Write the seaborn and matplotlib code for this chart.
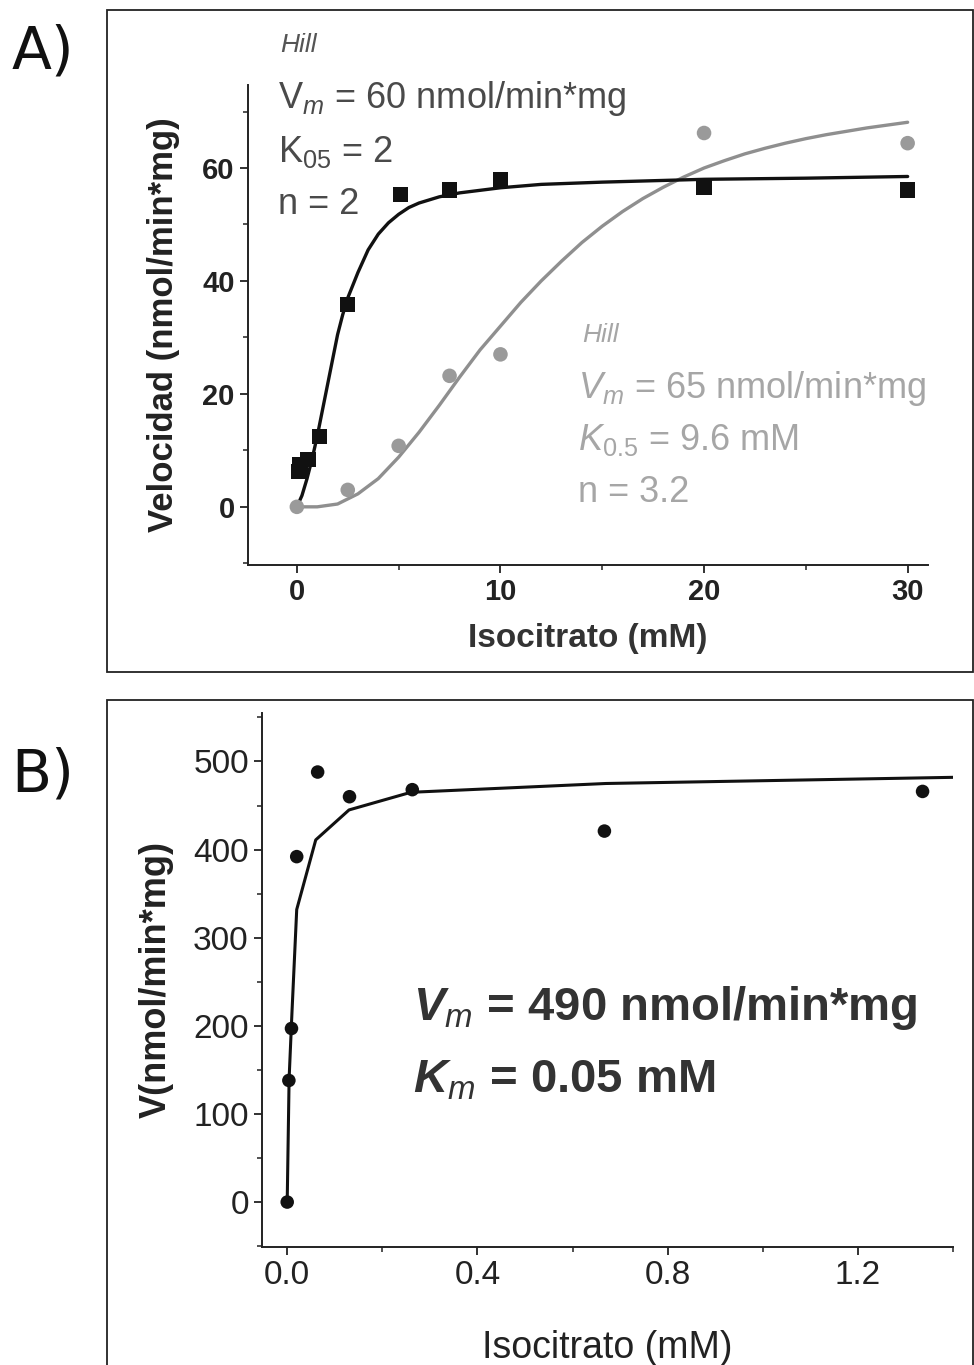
# =============================================================================
# Cinetica de la isocitrato deshidrogenasa: paneles A (Hill) y B (Michaelis)
# =============================================================================

import numpy as np
import pandas as pd
import matplotlib.pyplot as plt
import seaborn as sns
from matplotlib.patches import Rectangle
from matplotlib.ticker import MultipleLocator

sns.set_theme(style="ticks")
plt.rcParams['font.family'] = ['Liberation Sans', 'DejaVu Sans']
plt.rcParams['mathtext.fontset'] = 'custom'
plt.rcParams['mathtext.rm'] = 'Liberation Sans'
plt.rcParams['mathtext.it'] = 'Liberation Sans:italic'
plt.rcParams['mathtext.bf'] = 'Liberation Sans:bold'
plt.rcParams['mathtext.bfit'] = 'Liberation Sans:bold:italic'

# ---- Panel A data -----------------------------------------------------------
a_sq_x = [0.1, 0.15, 0.55, 1.1, 2.5, 5.1, 7.5, 10, 20, 30]
a_sq_y = [6.3, 7.4, 8.4, 12.4, 35.8, 55.3, 56.1, 57.9, 56.6, 56.1]

a_ci_x = [0, 2.5, 5, 7.5, 10, 20, 30]
a_ci_y = [0, 3.0, 10.8, 23.2, 27.0, 66.2, 64.4]

# fitted curves
a_fit1_x = [0, 0.25, 0.5, 0.75, 1, 1.25, 1.5, 1.75, 2, 2.25, 2.5, 3, 3.5, 4, 4.5,
            5, 5.5, 6, 7, 8, 10, 12, 15, 20, 25, 30]
a_fit1_y = [0, 2, 5, 8.5, 12.5, 17, 21.5, 26, 30.5, 34, 37, 41.5, 45.5, 48.3, 50.3,
            51.8, 53, 53.8, 54.9, 55.6, 56.5, 57.1, 57.5, 58, 58.2, 58.5]

a_fit2_x = [0, 1, 2, 3, 4, 5, 6, 7, 8, 9, 10, 11, 12, 13, 14, 15, 16, 17, 18, 19,
            20, 21, 22, 23, 24, 25, 26, 27, 28, 29, 30]
a_fit2_y = [0, 0, 0.5, 2.3, 5, 8.8, 13.2, 18, 23, 27.8, 32, 36.2, 40, 43.5, 46.8,
            49.7, 52.3, 54.6, 56.6, 58.4, 60, 61.3, 62.5, 63.5, 64.4, 65.2, 65.9,
            66.5, 67.1, 67.6, 68.1]

# ---- Panel B data -----------------------------------------------------------
b_x = [0, 0.0035, 0.009, 0.02, 0.064, 0.131, 0.263, 0.667, 1.336]
b_y = [0, 138, 197, 392, 488, 460, 468, 421, 466]

b_fit_x = [0, 0.004, 0.01, 0.02, 0.06, 0.13, 0.26, 0.67, 1.4]
b_fit_y = [0, 140, 215, 332, 411, 445, 465, 475, 482]

W, H = 974, 1365
fig = plt.figure(figsize=(W / 100, H / 100), dpi=100)


def fx(px):
    return px / W


def fy(py):
    return 1 - py / H


def style_axes(ax):
    sns.despine(ax=ax)
    for s in ['left', 'bottom']:
        ax.spines[s].set_linewidth(1.4)
        ax.spines[s].set_color('#222222')
    ax.tick_params(which='major', length=6, width=1.3, color='#222222')
    ax.tick_params(which='minor', length=3.5, width=1.1, color='#222222')
    ax.set_facecolor('white')


# =============================================================================
# Panel A
# =============================================================================
axA = fig.add_axes([fx(248), fy(565), fx(928) - fx(248), fy(85) - fy(565)])

fit1 = pd.DataFrame({'x': a_fit1_x, 'y': a_fit1_y})
fit2 = pd.DataFrame({'x': a_fit2_x, 'y': a_fit2_y})
sq = pd.DataFrame({'x': a_sq_x, 'y': a_sq_y})
ci = pd.DataFrame({'x': a_ci_x, 'y': a_ci_y})

sns.lineplot(data=fit2, x='x', y='y', ax=axA, color='#8f8f8f', lw=2.4, zorder=2)
sns.lineplot(data=fit1, x='x', y='y', ax=axA, color='#111111', lw=2.4, zorder=3)
sns.scatterplot(data=ci, x='x', y='y', ax=axA, marker='o', s=110,
                color='#9a9a9a', edgecolor='none', zorder=4)
sns.scatterplot(data=sq, x='x', y='y', ax=axA, marker='s', s=120,
                color='#111111', edgecolor='none', zorder=5)

axA.set_xlim(-2.4, 31.0)
axA.set_ylim(-10.3, 74.7)
axA.xaxis.set_major_locator(MultipleLocator(10))
axA.xaxis.set_minor_locator(MultipleLocator(5))
axA.yaxis.set_major_locator(MultipleLocator(20))
axA.yaxis.set_minor_locator(MultipleLocator(10))
style_axes(axA)
for lab in axA.get_xticklabels() + axA.get_yticklabels():
    lab.set_fontweight('bold')
    lab.set_fontsize(21)
    lab.set_color('#222222')
axA.set_xlabel('Isocitrato (mM)', fontsize=24, fontweight='bold', color='#333333', labelpad=12)
axA.set_ylabel('Velocidad (nmol/min*mg)', fontsize=25, fontweight='bold', color='#222222', labelpad=16)

c1 = '#4a4a4a'
fig.text(fx(280), fy(45), 'Hill', style='italic', fontsize=19, color='#555555', va='center')
fig.text(fx(278), fy(98), r'$\mathrm{V}_{m}$ = 60 nmol/min*mg', fontsize=26, color=c1, va='center')
fig.text(fx(278), fy(152), r'$\mathrm{K}_{05}$ = 2', fontsize=26, color=c1, va='center')
fig.text(fx(278), fy(205), 'n = 2', fontsize=26, color=c1, va='center')

c2 = '#a6a6a6'
fig.text(fx(582), fy(335), 'Hill', style='italic', fontsize=19, color=c2, va='center')
fig.text(fx(578), fy(388), r'$V_{m}$ = 65 nmol/min*mg', fontsize=26, color=c2, va='center')
fig.text(fx(578), fy(440), r'$K_{\mathrm{0.5}}$ = 9.6 mM', fontsize=26, color=c2, va='center')
fig.text(fx(578), fy(492), 'n = 3.2', fontsize=26, color=c2, va='center')

# =============================================================================
# Panel B
# =============================================================================
axB = fig.add_axes([fx(262), fy(1247), fx(953) - fx(262), fy(713) - fy(1247)])

bfit = pd.DataFrame({'x': b_fit_x, 'y': b_fit_y})
bpts = pd.DataFrame({'x': b_x, 'y': b_y})
sns.lineplot(data=bfit, x='x', y='y', ax=axB, color='#111111', lw=2.2, zorder=2)
sns.scatterplot(data=bpts, x='x', y='y', ax=axB, marker='o', s=95,
                color='#111111', edgecolor='none', zorder=3)

axB.set_xlim(-0.053, 1.40)
axB.set_ylim(-51, 555)
axB.xaxis.set_major_locator(MultipleLocator(0.4))
axB.xaxis.set_minor_locator(MultipleLocator(0.2))
axB.yaxis.set_major_locator(MultipleLocator(100))
axB.yaxis.set_minor_locator(MultipleLocator(50))
axB.set_xticks([0.0, 0.4, 0.8, 1.2])
axB.set_xticklabels(['0.0', '0.4', '0.8', '1.2'])
style_axes(axB)
for lab in axB.get_xticklabels() + axB.get_yticklabels():
    lab.set_fontsize(24)
    lab.set_color('#222222')
axB.set_xlabel('Isocitrato (mM)', fontsize=27, color='#222222', labelpad=28)
axB.set_ylabel('V(nmol/min*mg)', fontsize=26, fontweight='bold', color='#222222', labelpad=14)

c3 = '#333333'
fig.text(fx(413), fy(1008), r'$\mathbfit{V}_{m}$ = 490 nmol/min*mg', fontsize=34,
         fontweight='bold', color=c3, va='center')
fig.text(fx(413), fy(1080), r'$\mathbfit{K}_{m}$ = 0.05 mM', fontsize=34,
         fontweight='bold', color=c3, va='center')

# panel labels and frames
fig.text(fx(43), fy(52), 'A)', family='DejaVu Sans', fontsize=42, ha='center', va='center', color='#111111')
fig.text(fx(43), fy(775), 'B)', family='DejaVu Sans', fontsize=42, ha='center', va='center', color='#111111')

fig.add_artist(Rectangle((fx(107), fy(672)), 1.0 - fx(107) - 0.001, fy(10) - fy(672),
                         transform=fig.transFigure, fill=False, lw=1.3, ec='#222222'))
fig.add_artist(Rectangle((fx(107), -0.01), 1.0 - fx(107) - 0.001, fy(700) + 0.01,
                         transform=fig.transFigure, fill=False, lw=1.3, ec='#222222'))

fig.savefig('out.png', dpi=100, facecolor='white')
